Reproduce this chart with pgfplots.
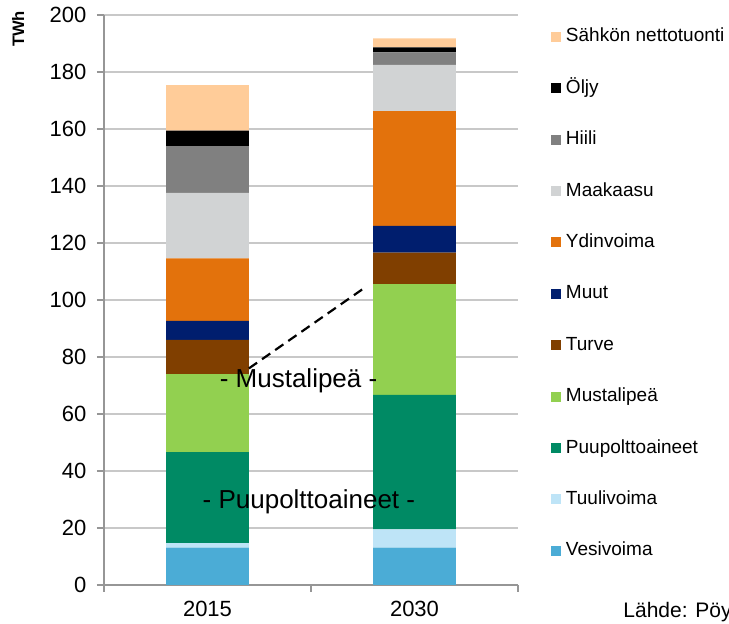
\documentclass[border=0pt]{standalone}
\usepackage{pgfplots}
\usepackage{pgfplotstable}
\pgfplotsset{compat=1.18}
\usepackage{fontspec}
\setmainfont{Liberation Sans}
\definecolor{cVesi}{RGB}{75,172,214}
\definecolor{cTuuli}{RGB}{190,228,247}
\definecolor{cPuu}{RGB}{0,138,100}
\definecolor{cMusta}{RGB}{146,208,80}
\definecolor{cTurve}{RGB}{128,63,0}
\definecolor{cMuut}{RGB}{0,30,110}
\definecolor{cYdin}{RGB}{227,114,12}
\definecolor{cKaasu}{RGB}{209,211,212}
\definecolor{cHiili}{RGB}{128,128,128}
\definecolor{cOljy}{RGB}{0,0,0}
\definecolor{cSahko}{RGB}{255,204,153}
\definecolor{cGrid}{RGB}{200,200,200}
\definecolor{cAxis}{RGB}{150,150,150}

\pgfplotstableread{
x Vesi Tuuli Puu Musta Turve Muut Ydin Kaasu Hiili Oljy Sahko
0 13.1 1.6 31.9 27.4 12.0 6.7 21.9 23.0 16.4 5.4 16.0
1 13.1 6.4 47.2 38.9 11.0 9.4 40.3 16.2 4.4 1.7 3.2
}\data

\begin{document}
\begin{tikzpicture}
\useasboundingbox (-52pt,-19.5pt) rectangle (312.5pt,292.5pt);
\begin{axis}[
  at={(0,0)}, anchor=south west,
  scale only axis, width=207pt, height=285pt,
  ybar stacked, bar width=0.4,
  xmin=-0.5, xmax=1.5, ymin=0, ymax=200,
  xtick={0,1}, xticklabels={2015,2030},
  minor xtick={-0.5,0.5,1.5},
  major x tick style={draw=none},
  ytick={0,20,...,200},
  tick pos=left, tick align=outside,
  major tick length=3.5pt, minor tick length=3.5pt,
  tick style={cAxis, line width=0.6pt},
  axis lines*=left,
  axis line style={cAxis, line width=0.6pt},
  ymajorgrids, major grid style={cGrid, line width=0.7pt},
  /pgf/number format/assume math mode=true,
  ticklabel style={font=\fontsize{11}{13}\selectfont},
  yticklabel style={xshift=-1.8pt},
  xticklabel style={yshift=-0.8pt},
  ylabel={TWh},
  ylabel style={at={(axis description cs:-0.2077,0.9755)}, anchor=center, font=\bfseries\fontsize{8.3}{10}\selectfont},
  legend style={at={(axis description cs:1.0797,0.9775)}, anchor=north west, draw=none, fill=none, inner sep=0pt, outer sep=0pt, row sep=16.7pt, column sep=2.5pt, font=\fontsize{9.5}{11}\selectfont, nodes={inner sep=0pt, text height=7pt, text depth=2pt, anchor=west}},
  legend cell align=left,
  reverse legend,
  legend image code/.code={\fill[#1] (0pt,-2.5pt) rectangle (5pt,2.5pt);},
]
\addplot[fill=cVesi, draw=none] table[x=x, y=Vesi] {\data};
\addlegendentry{Vesivoima}
\addplot[fill=cTuuli, draw=none] table[x=x, y=Tuuli] {\data};
\addlegendentry{Tuulivoima}
\addplot[fill=cPuu, draw=none] table[x=x, y=Puu] {\data};
\addlegendentry{Puupolttoaineet}
\addplot[fill=cMusta, draw=none] table[x=x, y=Musta] {\data};
\addlegendentry{Mustalipeä}
\addplot[fill=cTurve, draw=none] table[x=x, y=Turve] {\data};
\addlegendentry{Turve}
\addplot[fill=cMuut, draw=none] table[x=x, y=Muut] {\data};
\addlegendentry{Muut}
\addplot[fill=cYdin, draw=none] table[x=x, y=Ydin] {\data};
\addlegendentry{Ydinvoima}
\addplot[fill=cKaasu, draw=none] table[x=x, y=Kaasu] {\data};
\addlegendentry{Maakaasu}
\addplot[fill=cHiili, draw=none] table[x=x, y=Hiili] {\data};
\addlegendentry{Hiili}
\addplot[fill=cOljy, draw=none] table[x=x, y=Oljy] {\data};
\addlegendentry{Öljy}
\addplot[fill=cSahko, draw=none] table[x=x, y=Sahko] {\data};
\addlegendentry{Sähkön nettotuonti}
\end{axis}
\begin{axis}[
  at={(0,0)}, anchor=south west,
  scale only axis, width=207pt, height=285pt,
  xmin=-0.5, xmax=1.5, ymin=0, ymax=200,
  hide axis, clip=false,
]
\addplot[black, line width=1.1pt, dash pattern=on 5pt off 3pt] coordinates {(0.2,76) (0.763,104.5)};
\node[font=\fontsize{13}{15}\selectfont, fill=none] at (axis cs:0.44,71.5) {- Mustalipeä -};
\node[font=\fontsize{13}{15}\selectfont] at (axis cs:0.49,29.2) {- Puupolttoaineet -};
\end{axis}
\node[anchor=west, font=\fontsize{10.5}{12}\selectfont, inner sep=0pt] at (259.5pt,-13.5pt) {Lähde: Pöyry};
\end{tikzpicture}
\end{document}
